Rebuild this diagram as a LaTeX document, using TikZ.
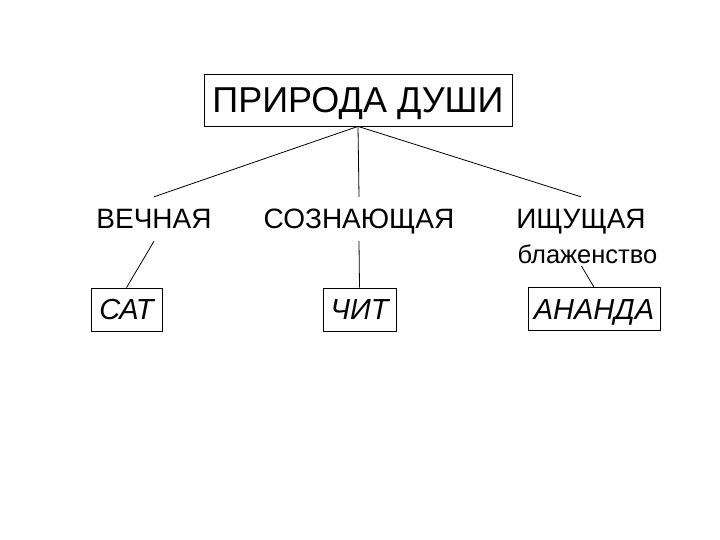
\documentclass[tikz,border=0pt]{standalone}
\usepackage{fontspec}
\setmainfont{Liberation Sans}
\begin{document}
\begin{tikzpicture}[x=1pt,y=-1pt,
  conn/.style={draw=black,line width=0.8pt},
  topbox/.style={draw=black,line width=0.8pt,inner sep=0pt,minimum width=308pt,minimum height=52pt,text height=26pt,text depth=0pt,font=\fontsize{36}{40}\selectfont},
  midtext/.style={inner xsep=0pt,inner ysep=12pt,text height=20pt,text depth=0pt,anchor=base,font=\fontsize{28}{32}\selectfont},
  subtext/.style={inner xsep=0pt,inner ysep=3pt,text height=18pt,text depth=0pt,anchor=base,font=\fontsize{25.5}{30}\selectfont},
  lowbox/.style={draw=black,line width=0.8pt,inner sep=0pt,minimum height=43pt,text height=20pt,text depth=0pt,font=\fontsize{29}{33}\selectfont\itshape}]
\useasboundingbox (0,0) rectangle (720,540);
\fill[white] (0,0) rectangle (720,540);
\node[topbox] (top) at (358,100) {ПРИРОДА ДУШИ};
\node[midtext] (vech) at (154,229) {ВЕЧНАЯ};
\node[midtext] (sozn) at (359,229) {СОЗНАЮЩАЯ};
\node[midtext] (ishch) at (581,229) {ИЩУЩАЯ};
\node[subtext] (blaz) at (587.5,263) {блаженство};
\node[lowbox,minimum width=71pt] (sat) at (126.5,309.5) {САТ};
\node[lowbox,minimum width=73pt] (chit) at (359.5,309.5) {ЧИТ};
\node[lowbox,minimum width=132pt] (anan) at (594,309) {АНАНДА};
\draw[conn] (top.south) -- (vech.north);
\draw[conn] (top.south) -- (sozn.north);
\draw[conn] (top.south) -- (ishch.north);
\draw[conn] (vech.south) -- (sat.north);
\draw[conn] (sozn.south) -- (chit.north);
\draw[conn] ([xshift=-6pt]blaz.south) -- (anan.north);
\end{tikzpicture}
\end{document}
